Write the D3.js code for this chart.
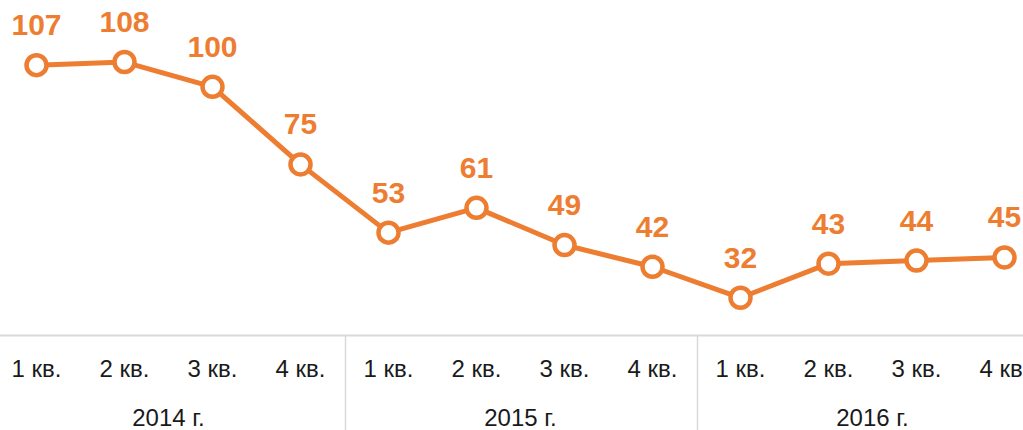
<!DOCTYPE html>
<html>
<head>
<meta charset="utf-8">
<script src="https://cdn.jsdelivr.net/npm/d3@7/dist/d3.min.js"></script>
<style>
  html, body { margin: 0; padding: 0; background: #fff; overflow: hidden; }
  svg { display: block; font-family: 'Liberation Sans', Arial, sans-serif; }
</style>
</head>
<body>
<svg id="chart"></svg>
<script>
let years = ['2014 г.', '2015 г.', '2016 г.']
let quarters = ['1 кв.', '2 кв.', '3 кв.', '4 кв.']
let values = [107, 108, 100, 75, 53, 61, 49, 42, 32, 43, 44, 45]

let width = 1023
let height = 430
let orange = '#ED7D31'
let grid = '#d9d9d9'

let data = values.map(function (v, i) {
  return {
    key: i,
    year: years[Math.floor(i / quarters.length)],
    quarter: quarters[i % quarters.length],
    value: v
  }
})

let svg = d3.select('#chart')
  .attr('width', width)
  .attr('height', height)

// the plot area runs a bit past both edges of the picture, so it is cropped
let x = d3.scaleBand()
  .domain(data.map(d => d.key))
  .range([-7.5, 1048.5])
  .padding(0)

let yearX = d3.scaleBand()
  .domain(years)
  .range(x.range())
  .padding(0)

let y = d3.scaleLinear()
  .domain([20, 128])
  .range([335, 0])

let axisY = y(20)

// axis line
svg.append('line')
  .attr('x1', 0)
  .attr('x2', width)
  .attr('y1', axisY + 0.5)
  .attr('y2', axisY + 0.5)
  .attr('stroke', grid)
  .attr('stroke-width', 2)

// year dividers
svg.selectAll('.divider')
  .data(years.concat(['end']))
  .enter().append('line')
  .attr('class', 'divider')
  .attr('x1', (d, i) => Math.round(yearX.range()[0] + i * yearX.bandwidth()) + 0.5)
  .attr('x2', (d, i) => Math.round(yearX.range()[0] + i * yearX.bandwidth()) + 0.5)
  .attr('y1', axisY + 1)
  .attr('y2', height)
  .attr('stroke', grid)
  .attr('stroke-width', 1.5)

// quarter labels
svg.selectAll('.qlabel')
  .data(data)
  .enter().append('text')
  .attr('class', 'qlabel')
  .attr('x', d => x(d.key) + x.bandwidth() / 2)
  .attr('y', 377)
  .attr('text-anchor', 'middle')
  .attr('font-size', 24)
  .attr('fill', '#1a1a1a')
  .text(d => d.quarter)

// year labels
svg.selectAll('.ylabel')
  .data(years)
  .enter().append('text')
  .attr('class', 'ylabel')
  .attr('x', d => yearX(d) + yearX.bandwidth() / 2)
  .attr('y', 426)
  .attr('text-anchor', 'middle')
  .attr('font-size', 24)
  .attr('fill', '#1a1a1a')
  .text(d => d)

let line = d3.line()
  .x(d => x(d.key) + x.bandwidth() / 2)
  .y(d => y(d.value))

svg.append('path')
  .datum(data)
  .attr('d', line)
  .attr('fill', 'none')
  .attr('stroke', orange)
  .attr('stroke-width', 5)
  .attr('stroke-linejoin', 'round')

svg.selectAll('.dot')
  .data(data)
  .enter().append('circle')
  .attr('class', 'dot')
  .attr('cx', d => x(d.key) + x.bandwidth() / 2)
  .attr('cy', d => y(d.value))
  .attr('r', 10)
  .attr('fill', '#fff')
  .attr('stroke', orange)
  .attr('stroke-width', 4.5)

svg.selectAll('.vlabel')
  .data(data)
  .enter().append('text')
  .attr('class', 'vlabel')
  .attr('x', d => x(d.key) + x.bandwidth() / 2)
  .attr('y', d => y(d.value) - 30)
  .attr('text-anchor', 'middle')
  .attr('font-size', 30)
  .attr('font-weight', 'bold')
  .attr('fill', orange)
  .text(d => d.value)
</script>
</body>
</html>
